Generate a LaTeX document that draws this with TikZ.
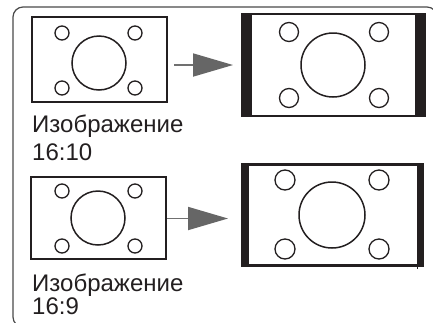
\documentclass[tikz,border=0pt]{standalone}
\usepackage{fontspec}
\setmainfont{Liberation Sans}
\usetikzlibrary{arrows.meta}
\definecolor{frameg}{HTML}{4A4A4A}
\definecolor{arrg}{HTML}{707070}
\definecolor{headg}{HTML}{666666}
\definecolor{ink}{HTML}{231F20}
\tikzset{
  srcbox/.style={draw=ink, line width=2pt, fill=white, inner sep=0pt},
  dot/.style={draw=ink, line width=1.3pt},
  bigdot/.style={draw=ink, line width=1.5pt},
  conn/.style={draw=arrg, line width=1.8pt, -{Triangle[length=40pt,width=23pt,fill=headg,color=headg]}},
  lbl/.style={anchor=base west, inner sep=0pt, text=ink, font=\fontsize{24}{28}\selectfont},
}
\begin{document}
\begin{tikzpicture}[x=1pt,y=-1pt]
\useasboundingbox (0,0) rectangle (433,322);
\clip (0,0) rectangle (433,322);
% outer frame
\draw[frameg, line width=1.2pt, rounded corners=10pt] (13,7) rectangle (437,327);

% ---- row 1 ----
\node[srcbox, minimum width=135pt, minimum height=85pt] (l1) at (99.5,59.5) {};
\foreach \p in {(62,33),(135,33),(62,88),(135,88)} \draw[dot] \p circle (7);
\draw[bigdot] (99,63) circle (27);

\fill[ink] (241,13) rectangle (426,117);
\node[fill=white, inner sep=0pt, minimum width=163pt, minimum height=100pt] (r1) at (333.5,65) {};
\foreach \p in {(289,32),(379,32),(289,98),(379,98)} \draw[dot] \p circle (9.5);
\draw[bigdot] (333,65) circle (32);

\coordinate (a1s) at (174,65);
\coordinate (a1e) at (233,65);
\draw[conn] (a1s) -- (a1e);

\node[lbl] (t1a) at (32,132) {Изображение};
\node[lbl] (t1b) at (32,160) {16:10};

% ---- row 2 ----
\node[srcbox, minimum width=135pt, minimum height=82pt] (l2) at (98.5,218) {};
\foreach \p in {(62,191),(135,191),(62,246),(135,246)} \draw[dot] \p circle (7);
\draw[bigdot] (98,218) circle (27);

\fill[ink] (241,163) rectangle (424,267);
\node[fill=white, inner sep=0pt, minimum width=168pt, minimum height=98pt] (r2) at (332.5,215) {};
\draw[ink, line width=1pt] (417,266) -- (417,268.5);
\foreach \p in {(285,180),(379,180),(285,249),(379,249)} \draw[dot] \p circle (10);
\draw[bigdot] (332,215) circle (33);

\coordinate (a2s) at (167,218.5);
\coordinate (a2e) at (228,218.5);
\draw[conn] (a2s) -- (a2e);

\node[lbl] (t2a) at (32,291) {Изображение};
\node[lbl] (t2b) at (32,314) {16:9};
\end{tikzpicture}
\end{document}
